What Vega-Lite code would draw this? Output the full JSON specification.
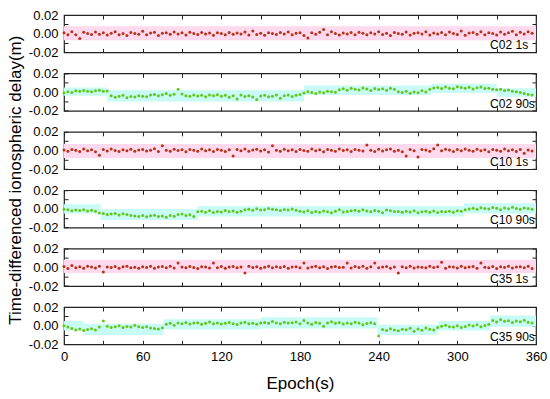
{
"$schema":"https://vega.github.io/schema/vega-lite/v6.json",
"padding":{"left":5,"top":8,"right":10,"bottom":5},
"background":"white",
"spacing":20.4,
"bounds":"flush",
"config":{"view":{"stroke":"#222","strokeWidth":1.2},"font":"Liberation Sans",
"axis":{"grid":false,"domain":false,"ticks":true,"tickSize":-4,"tickColor":"#222","tickWidth":1,"labelFont":"Liberation Sans","labelFontSize":13,"labelColor":"#000","labelPadding":10,"labelFlush":false,"titleFont":"Liberation Sans","titleFontSize":17,"titleFontWeight":"normal","titleColor":"#000"}},
"datasets":{
"c1":[{"t":0,"v":0.001},{"t":3,"v":-0.001},{"t":6,"v":0.002},{"t":9,"v":-0.0012},{"t":12,"v":-0.005},{"t":15,"v":0.0015},{"t":18,"v":0.0002},{"t":21,"v":-0.0008},{"t":24,"v":0.0018},{"t":27,"v":-0.0005},
{"t":30,"v":0.001},{"t":33,"v":-0.0015},{"t":36,"v":0.0006},{"t":39,"v":0.0022},{"t":42,"v":-0.001},{"t":45,"v":0.0003},{"t":48,"v":-0.0018},{"t":51,"v":0.0012},{"t":54,"v":0.0001},{"t":57,"v":-0.0006},
{"t":60,"v":0.0025},{"t":63,"v":-0.0012},{"t":66,"v":0.0008},{"t":69,"v":0.0015},{"t":72,"v":-0.002},{"t":75,"v":0.0004},{"t":78,"v":0.0011},{"t":81,"v":-0.0007},{"t":84,"v":0.0019},{"t":87,"v":-0.0003},
{"t":90,"v":0.0009},{"t":93,"v":-0.0014},{"t":96,"v":0.0016},{"t":99,"v":0.0002},{"t":102,"v":-0.0009},{"t":105,"v":0.0012},{"t":108,"v":-0.0004},{"t":111,"v":0.0007},{"t":114,"v":-0.0016},{"t":117,"v":0.001},
{"t":120,"v":0.0003},{"t":123,"v":-0.0011},{"t":126,"v":0.0014},{"t":129,"v":-0.0006},{"t":132,"v":0.0008},{"t":135,"v":-0.0002},{"t":138,"v":0.0017},{"t":141,"v":-0.0013},{"t":144,"v":0.003},{"t":147,"v":-0.0008},
{"t":150,"v":0.0005},{"t":153,"v":-0.0017},{"t":156,"v":0.0011},{"t":159,"v":0.0001},{"t":162,"v":-0.0009},{"t":165,"v":0.0013},{"t":168,"v":-0.0004},{"t":171,"v":0.0018},{"t":174,"v":-0.0012},{"t":177,"v":0.0006},
{"t":180,"v":0.0009},{"t":183,"v":-0.002},{"t":186,"v":-0.0045},{"t":189,"v":0.001},{"t":192,"v":-0.0005},{"t":195,"v":0.0015},{"t":198,"v":0.0045},{"t":201,"v":-0.001},{"t":204,"v":0.002},{"t":207,"v":0.0002},
{"t":210,"v":-0.0015},{"t":213,"v":0.0008},{"t":216,"v":-0.0003},{"t":219,"v":0.0012},{"t":222,"v":-0.001},{"t":225,"v":0.0016},{"t":228,"v":0.0004},{"t":231,"v":-0.0012},{"t":234,"v":0.0009},{"t":237,"v":-0.0002},
{"t":240,"v":0.0021},{"t":243,"v":-0.0008},{"t":246,"v":0.0006},{"t":249,"v":-0.0018},{"t":252,"v":0.0012},{"t":255,"v":0.0001},{"t":258,"v":-0.0007},{"t":261,"v":0.0017},{"t":264,"v":-0.0013},{"t":267,"v":0.0005},
{"t":270,"v":0.001},{"t":273,"v":-0.0004},{"t":276,"v":0.0022},{"t":279,"v":-0.0015},{"t":282,"v":0.0008},{"t":285,"v":-0.0002},{"t":288,"v":0.0014},{"t":291,"v":-0.0011},{"t":294,"v":0.0019},{"t":297,"v":0.0003},
{"t":300,"v":-0.0009},{"t":303,"v":0.0028},{"t":306,"v":-0.0016},{"t":309,"v":0.0007},{"t":312,"v":0.0013},{"t":315,"v":-0.0006},{"t":318,"v":0.002},{"t":321,"v":-0.0012},{"t":324,"v":0.0009},{"t":327,"v":0.0002},
{"t":330,"v":-0.0014},{"t":333,"v":0.0018},{"t":336,"v":-0.0005},{"t":339,"v":0.0011},{"t":342,"v":0.0026},{"t":345,"v":-0.001},{"t":348,"v":0.0015},{"t":351,"v":-0.0003},{"t":354,"v":0.0021},{"t":357,"v":0.0004}],
"c2":[{"t":0,"v":-0.001},{"t":3,"v":0.0005},{"t":6,"v":-0.0005},{"t":9,"v":0.0015},{"t":12,"v":0.0008},{"t":15,"v":0.0018},{"t":18,"v":0.001},{"t":21,"v":0.0003},{"t":24,"v":0.0015},{"t":27,"v":0.002},
{"t":30,"v":0.0008},{"t":33,"v":0.0012},{"t":36,"v":-0.004},{"t":39,"v":-0.0055},{"t":42,"v":-0.0045},{"t":45,"v":-0.0035},{"t":48,"v":-0.006},{"t":51,"v":-0.0048},{"t":54,"v":-0.0052},{"t":57,"v":-0.0038},
{"t":60,"v":-0.0045},{"t":63,"v":-0.005},{"t":66,"v":-0.003},{"t":69,"v":-0.0025},{"t":72,"v":-0.004},{"t":75,"v":-0.0028},{"t":78,"v":-0.0015},{"t":81,"v":-0.0035},{"t":84,"v":-0.0022},{"t":87,"v":0.003},
{"t":90,"v":-0.002},{"t":93,"v":-0.0038},{"t":96,"v":-0.0045},{"t":99,"v":-0.003},{"t":102,"v":-0.0042},{"t":105,"v":-0.0035},{"t":108,"v":-0.005},{"t":111,"v":-0.0032},{"t":114,"v":-0.004},{"t":117,"v":-0.0028},
{"t":120,"v":-0.0045},{"t":123,"v":-0.0035},{"t":126,"v":-0.0055},{"t":129,"v":-0.004},{"t":132,"v":-0.0075},{"t":135,"v":-0.003},{"t":138,"v":-0.0048},{"t":141,"v":-0.0038},{"t":144,"v":-0.0052},{"t":147,"v":-0.008},
{"t":150,"v":-0.0042},{"t":153,"v":-0.0035},{"t":156,"v":-0.005},{"t":159,"v":-0.0045},{"t":162,"v":-0.0032},{"t":165,"v":-0.0065},{"t":168,"v":-0.004},{"t":171,"v":-0.003},{"t":174,"v":-0.0048},{"t":177,"v":-0.0035},
{"t":180,"v":-0.0025},{"t":183,"v":-0.001},{"t":186,"v":0.0005},{"t":189,"v":-0.0005},{"t":192,"v":-0.0015},{"t":195,"v":0.0002},{"t":198,"v":-0.0008},{"t":201,"v":0.001},{"t":204,"v":0.0003},{"t":207,"v":-0.0002},
{"t":210,"v":0.0025},{"t":213,"v":0.0035},{"t":216,"v":0.002},{"t":219,"v":0.004},{"t":222,"v":0.003},{"t":225,"v":0.0022},{"t":228,"v":0.0045},{"t":231,"v":0.0032},{"t":234,"v":0.0018},{"t":237,"v":0.0038},
{"t":240,"v":0.0028},{"t":243,"v":0.0035},{"t":246,"v":0.002},{"t":249,"v":0.0042},{"t":252,"v":0.003},{"t":255,"v":0.0005},{"t":258,"v":-0.0005},{"t":261,"v":0.001},{"t":264,"v":-0.0012},{"t":267,"v":0.0002},
{"t":270,"v":-0.0008},{"t":273,"v":0.0015},{"t":276,"v":0.0},{"t":279,"v":0.003},{"t":282,"v":0.0045},{"t":285,"v":0.005},{"t":288,"v":0.0038},{"t":291,"v":0.0055},{"t":294,"v":0.0042},{"t":297,"v":0.0035},
{"t":300,"v":0.0058},{"t":303,"v":0.0048},{"t":306,"v":0.004},{"t":309,"v":0.0052},{"t":312,"v":0.0032},{"t":315,"v":0.0046},{"t":318,"v":0.0055},{"t":321,"v":0.0038},{"t":324,"v":0.0042},{"t":327,"v":0.003},
{"t":330,"v":0.0025},{"t":333,"v":0.003},{"t":336,"v":0.0018},{"t":339,"v":0.0022},{"t":342,"v":0.001},{"t":345,"v":0.0005},{"t":348,"v":-0.0005},{"t":351,"v":-0.0015},{"t":354,"v":-0.0025},{"t":357,"v":-0.003}],
"c3":[{"t":0,"v":0.0005},{"t":3,"v":-0.0008},{"t":6,"v":0.0012},{"t":9,"v":0.0002},{"t":12,"v":-0.001},{"t":15,"v":0.0015},{"t":18,"v":-0.0003},{"t":21,"v":0.0009},{"t":24,"v":-0.0013},{"t":27,"v":-0.005},
{"t":30,"v":0.001},{"t":33,"v":-0.0005},{"t":36,"v":0.0016},{"t":39,"v":0.0001},{"t":42,"v":-0.0011},{"t":45,"v":0.0008},{"t":48,"v":-0.0002},{"t":51,"v":0.0014},{"t":54,"v":-0.0009},{"t":57,"v":0.0006},
{"t":60,"v":0.0011},{"t":63,"v":-0.0006},{"t":66,"v":0.0003},{"t":69,"v":0.0018},{"t":72,"v":-0.0012},{"t":75,"v":0.005},{"t":78,"v":0.0004},{"t":81,"v":-0.0007},{"t":84,"v":0.0013},{"t":87,"v":-0.0001},
{"t":90,"v":0.0009},{"t":93,"v":-0.0014},{"t":96,"v":0.001},{"t":99,"v":0.0002},{"t":102,"v":-0.0008},{"t":105,"v":0.0015},{"t":108,"v":-0.0004},{"t":111,"v":0.0007},{"t":114,"v":-0.001},{"t":117,"v":0.0012},
{"t":120,"v":0.0003},{"t":123,"v":-0.0012},{"t":126,"v":0.0008},{"t":129,"v":-0.006},{"t":132,"v":0.0011},{"t":135,"v":-0.0003},{"t":138,"v":0.0016},{"t":141,"v":-0.0009},{"t":144,"v":0.0005},{"t":147,"v":0.0013},
{"t":150,"v":-0.0006},{"t":153,"v":0.0009},{"t":156,"v":-0.0015},{"t":159,"v":0.005},{"t":162,"v":0.0002},{"t":165,"v":-0.0008},{"t":168,"v":0.0014},{"t":171,"v":-0.0002},{"t":174,"v":0.0007},{"t":177,"v":-0.0011},
{"t":180,"v":0.0012},{"t":183,"v":0.0001},{"t":186,"v":-0.0009},{"t":189,"v":0.0017},{"t":192,"v":-0.0004},{"t":195,"v":0.0008},{"t":198,"v":-0.0013},{"t":201,"v":0.001},{"t":204,"v":0.0004},{"t":207,"v":-0.0007},
{"t":210,"v":0.0015},{"t":213,"v":-0.0001},{"t":216,"v":0.0009},{"t":219,"v":-0.0012},{"t":222,"v":0.0011},{"t":225,"v":0.0002},{"t":228,"v":-0.0006},{"t":231,"v":0.006},{"t":234,"v":0.0003},{"t":237,"v":-0.001},
{"t":240,"v":0.0013},{"t":243,"v":-0.0005},{"t":246,"v":0.0007},{"t":249,"v":0.0016},{"t":252,"v":-0.0008},{"t":255,"v":0.0004},{"t":258,"v":-0.0013},{"t":261,"v":-0.006},{"t":264,"v":0.001},{"t":267,"v":-0.0002},
{"t":270,"v":-0.007},{"t":273,"v":0.0012},{"t":276,"v":0.0005},{"t":279,"v":-0.0009},{"t":282,"v":0.0018},{"t":285,"v":0.006},{"t":288,"v":-0.0003},{"t":291,"v":0.0014},{"t":294,"v":0.0006},{"t":297,"v":-0.0011},
{"t":300,"v":0.001},{"t":303,"v":-0.0004},{"t":306,"v":0.0015},{"t":309,"v":0.0002},{"t":312,"v":-0.0008},{"t":315,"v":0.0013},{"t":318,"v":-0.0002},{"t":321,"v":0.0008},{"t":324,"v":-0.0014},{"t":327,"v":0.0011},
{"t":330,"v":0.0003},{"t":333,"v":-0.0007},{"t":336,"v":0.0016},{"t":339,"v":-0.0003},{"t":342,"v":0.0009},{"t":345,"v":-0.0012},{"t":348,"v":0.001},{"t":351,"v":-0.003},{"t":354,"v":0.0006},{"t":357,"v":-0.0005}],
"c4":[{"t":0,"v":-0.0005},{"t":3,"v":-0.001},{"t":6,"v":-0.002},{"t":9,"v":-0.0012},{"t":12,"v":-0.0018},{"t":15,"v":-0.0008},{"t":18,"v":-0.0022},{"t":21,"v":-0.0015},{"t":24,"v":-0.0025},{"t":27,"v":-0.0045},
{"t":30,"v":-0.005},{"t":33,"v":-0.006},{"t":36,"v":-0.0055},{"t":39,"v":-0.0048},{"t":42,"v":-0.0065},{"t":45,"v":-0.0052},{"t":48,"v":-0.006},{"t":51,"v":-0.007},{"t":54,"v":-0.0075},{"t":57,"v":-0.008},
{"t":60,"v":-0.007},{"t":63,"v":-0.0085},{"t":66,"v":-0.0072},{"t":69,"v":-0.0068},{"t":72,"v":-0.0082},{"t":75,"v":-0.0075},{"t":78,"v":-0.009},{"t":81,"v":-0.007},{"t":84,"v":-0.0078},{"t":87,"v":-0.006},
{"t":90,"v":-0.0055},{"t":93,"v":-0.007},{"t":96,"v":-0.0062},{"t":99,"v":-0.008},{"t":102,"v":-0.003},{"t":105,"v":-0.0025},{"t":108,"v":-0.0035},{"t":111,"v":-0.002},{"t":114,"v":-0.0038},{"t":117,"v":-0.0028},
{"t":120,"v":-0.0032},{"t":123,"v":-0.0018},{"t":126,"v":-0.003},{"t":129,"v":-0.0022},{"t":132,"v":-0.0035},{"t":135,"v":-0.0025},{"t":138,"v":-0.001},{"t":141,"v":-0.0005},{"t":144,"v":-0.0015},{"t":147,"v":0.0002},
{"t":150,"v":-0.0012},{"t":153,"v":-0.0008},{"t":156,"v":0.0005},{"t":159,"v":-0.0003},{"t":162,"v":-0.001},{"t":165,"v":-0.0018},{"t":168,"v":-0.0006},{"t":171,"v":-0.0012},{"t":174,"v":0.0},{"t":177,"v":-0.0015},
{"t":180,"v":-0.0025},{"t":183,"v":-0.0032},{"t":186,"v":-0.002},{"t":189,"v":-0.0038},{"t":192,"v":-0.0028},{"t":195,"v":-0.0035},{"t":198,"v":-0.0022},{"t":201,"v":-0.003},{"t":204,"v":-0.004},{"t":207,"v":-0.0025},
{"t":210,"v":-0.001},{"t":213,"v":-0.0032},{"t":216,"v":-0.0028},{"t":219,"v":-0.002},{"t":222,"v":-0.0015},{"t":225,"v":-0.0025},{"t":228,"v":-0.001},{"t":231,"v":-0.0022},{"t":234,"v":-0.003},{"t":237,"v":-0.0018},
{"t":240,"v":-0.0025},{"t":243,"v":-0.004},{"t":246,"v":-0.0012},{"t":249,"v":-0.002},{"t":252,"v":-0.0028},{"t":255,"v":-0.0028},{"t":258,"v":-0.0035},{"t":261,"v":-0.0025},{"t":264,"v":-0.0032},{"t":267,"v":-0.002},
{"t":270,"v":-0.004},{"t":273,"v":-0.003},{"t":276,"v":-0.0026},{"t":279,"v":-0.0035},{"t":282,"v":-0.0022},{"t":285,"v":-0.0038},{"t":288,"v":-0.0028},{"t":291,"v":-0.003},{"t":294,"v":-0.0024},{"t":297,"v":-0.0036},
{"t":300,"v":-0.002},{"t":303,"v":-0.0025},{"t":306,"v":-0.001},{"t":309,"v":0.0},{"t":312,"v":0.0008},{"t":315,"v":-0.0005},{"t":318,"v":0.0012},{"t":321,"v":0.0003},{"t":324,"v":-0.0002},{"t":327,"v":0.0015},
{"t":330,"v":0.0006},{"t":333,"v":-0.0008},{"t":336,"v":0.001},{"t":339,"v":0.0002},{"t":342,"v":0.0018},{"t":345,"v":0.0004},{"t":348,"v":-0.0005},{"t":351,"v":0.001},{"t":354,"v":0.0005},{"t":357,"v":-0.0003}],
"c5":[{"t":0,"v":0.0008},{"t":3,"v":-0.0012},{"t":6,"v":0.002},{"t":9,"v":-0.0005},{"t":12,"v":0.0006},{"t":15,"v":-0.0009},{"t":18,"v":0.0011},{"t":21,"v":0.0002},{"t":24,"v":-0.0007},{"t":27,"v":0.001},
{"t":30,"v":-0.005},{"t":33,"v":0.0004},{"t":36,"v":-0.0003},{"t":39,"v":0.0009},{"t":42,"v":-0.0011},{"t":45,"v":0.0005},{"t":48,"v":0.0012},{"t":51,"v":-0.0006},{"t":54,"v":0.0001},{"t":57,"v":-0.0009},
{"t":60,"v":0.0007},{"t":63,"v":-0.0002},{"t":66,"v":0.001},{"t":69,"v":-0.001},{"t":72,"v":0.0003},{"t":75,"v":0.0008},{"t":78,"v":-0.0005},{"t":81,"v":0.0011},{"t":84,"v":-0.0008},{"t":87,"v":0.0045},
{"t":90,"v":0.0002},{"t":93,"v":-0.0006},{"t":96,"v":0.0009},{"t":99,"v":-0.0001},{"t":102,"v":-0.0012},{"t":105,"v":0.0006},{"t":108,"v":0.0003},{"t":111,"v":-0.0007},{"t":114,"v":0.0045},{"t":117,"v":-0.0004},
{"t":120,"v":0.0008},{"t":123,"v":-0.001},{"t":126,"v":0.0002},{"t":129,"v":0.0009},{"t":132,"v":-0.0005},{"t":135,"v":0.0004},{"t":138,"v":-0.006},{"t":141,"v":0.001},{"t":144,"v":-0.0003},{"t":147,"v":0.0006},
{"t":150,"v":-0.0009},{"t":153,"v":0.0001},{"t":156,"v":0.0012},{"t":159,"v":-0.0006},{"t":162,"v":0.0005},{"t":165,"v":-0.0002},{"t":168,"v":0.0008},{"t":171,"v":-0.0011},{"t":174,"v":0.0003},{"t":177,"v":0.0007},
{"t":180,"v":-0.0004},{"t":183,"v":0.0045},{"t":186,"v":-0.0008},{"t":189,"v":0.0002},{"t":192,"v":0.001},{"t":195,"v":-0.0005},{"t":198,"v":0.0006},{"t":201,"v":-0.0012},{"t":204,"v":0.0004},{"t":207,"v":0.0009},
{"t":210,"v":-0.0003},{"t":213,"v":0.0001},{"t":216,"v":0.0045},{"t":219,"v":-0.0007},{"t":222,"v":0.0008},{"t":225,"v":-0.0002},{"t":228,"v":0.0011},{"t":231,"v":-0.0009},{"t":234,"v":0.0005},{"t":237,"v":0.0045},
{"t":240,"v":-0.0006},{"t":243,"v":0.0003},{"t":246,"v":0.0009},{"t":249,"v":-0.0011},{"t":252,"v":0.0002},{"t":255,"v":-0.006},{"t":258,"v":0.0007},{"t":261,"v":-0.0004},{"t":264,"v":0.001},{"t":267,"v":-0.0008},
{"t":270,"v":0.0004},{"t":273,"v":0.0001},{"t":276,"v":-0.0006},{"t":279,"v":0.0012},{"t":282,"v":-0.0003},{"t":285,"v":0.0006},{"t":288,"v":0.0055},{"t":291,"v":-0.001},{"t":294,"v":0.0005},{"t":297,"v":0.0002},
{"t":300,"v":-0.0007},{"t":303,"v":0.001},{"t":306,"v":-0.0004},{"t":309,"v":0.0003},{"t":312,"v":0.0008},{"t":315,"v":-0.0009},{"t":318,"v":0.0045},{"t":321,"v":0.0001},{"t":324,"v":-0.0005},{"t":327,"v":0.0009},
{"t":330,"v":-0.0012},{"t":333,"v":0.0006},{"t":336,"v":-0.0002},{"t":339,"v":0.0011},{"t":342,"v":-0.0008},{"t":345,"v":0.0003},{"t":348,"v":0.0007},{"t":351,"v":-0.0006},{"t":354,"v":0.001},{"t":357,"v":-0.0014}],
"c6":[{"t":0,"v":0.0},{"t":3,"v":-0.0015},{"t":6,"v":-0.003},{"t":9,"v":-0.0045},{"t":12,"v":-0.0035},{"t":15,"v":-0.005},{"t":18,"v":-0.004},{"t":21,"v":-0.0032},{"t":24,"v":-0.0045},{"t":27,"v":-0.0015},
{"t":30,"v":0.005},{"t":33,"v":-0.0005},{"t":36,"v":-0.0018},{"t":39,"v":-0.001},{"t":42,"v":0.0},{"t":45,"v":-0.002},{"t":48,"v":-0.0008},{"t":51,"v":-0.0015},{"t":54,"v":0.0005},{"t":57,"v":-0.0012},
{"t":60,"v":-0.002},{"t":63,"v":-0.001},{"t":66,"v":-0.0025},{"t":69,"v":-0.003},{"t":72,"v":-0.0035},{"t":75,"v":-0.0022},{"t":78,"v":0.0015},{"t":81,"v":0.0025},{"t":84,"v":0.0005},{"t":87,"v":0.003},
{"t":90,"v":0.002},{"t":93,"v":0.0035},{"t":96,"v":0.0018},{"t":99,"v":0.0028},{"t":102,"v":0.0032},{"t":105,"v":0.0015},{"t":108,"v":0.0025},{"t":111,"v":0.004},{"t":114,"v":0.0022},{"t":117,"v":0.003},
{"t":120,"v":0.0018},{"t":123,"v":0.0026},{"t":126,"v":0.0035},{"t":129,"v":0.002},{"t":132,"v":0.0012},{"t":135,"v":0.0028},{"t":138,"v":0.0038},{"t":141,"v":0.0022},{"t":144,"v":0.0025},{"t":147,"v":0.0016},
{"t":150,"v":0.003},{"t":153,"v":0.0035},{"t":156,"v":0.0025},{"t":159,"v":0.0045},{"t":162,"v":0.003},{"t":165,"v":0.002},{"t":168,"v":0.0038},{"t":171,"v":0.0028},{"t":174,"v":0.0032},{"t":177,"v":0.004},
{"t":180,"v":0.0022},{"t":183,"v":0.0055},{"t":186,"v":0.003},{"t":189,"v":0.0015},{"t":192,"v":0.0035},{"t":195,"v":0.0025},{"t":198,"v":-0.0005},{"t":201,"v":0.003},{"t":204,"v":0.0042},{"t":207,"v":0.0026},
{"t":210,"v":0.0034},{"t":213,"v":0.0018},{"t":216,"v":0.003},{"t":219,"v":0.0022},{"t":222,"v":0.0036},{"t":225,"v":0.0028},{"t":228,"v":0.001},{"t":231,"v":0.0024},{"t":234,"v":0.0032},{"t":237,"v":0.002},
{"t":240,"v":-0.011},{"t":243,"v":-0.004},{"t":246,"v":-0.005},{"t":249,"v":-0.0032},{"t":252,"v":-0.0045},{"t":255,"v":-0.0055},{"t":258,"v":-0.0038},{"t":261,"v":-0.0042},{"t":264,"v":-0.0028},{"t":267,"v":-0.006},
{"t":270,"v":-0.0035},{"t":273,"v":-0.0048},{"t":276,"v":-0.0025},{"t":279,"v":-0.0038},{"t":282,"v":-0.0045},{"t":285,"v":-0.002},{"t":288,"v":-0.0005},{"t":291,"v":0.0005},{"t":294,"v":-0.001},{"t":297,"v":-0.0015},
{"t":300,"v":0.0},{"t":303,"v":-0.002},{"t":306,"v":-0.0008},{"t":309,"v":0.0008},{"t":312,"v":-0.0003},{"t":315,"v":0.001},{"t":318,"v":-0.0012},{"t":321,"v":0.0003},{"t":324,"v":0.0015},{"t":327,"v":0.0055},
{"t":330,"v":0.004},{"t":333,"v":0.0065},{"t":336,"v":0.0048},{"t":339,"v":0.0052},{"t":342,"v":0.0035},{"t":345,"v":0.005},{"t":348,"v":0.0042},{"t":351,"v":0.0058},{"t":354,"v":0.0038},{"t":357,"v":0.003}]
},
"vconcat":[
{"width":472,"height":37.4,"resolve":{"axis":{"x":"independent","y":"independent"}},"layer":[
{"data":{"values":[{"t0":0,"t1":360,"lo":-0.007,"hi":0.008}]},"mark":{"type":"rect","color":"#ffd9ee"},"encoding":{"x":{"field":"t0","type":"quantitative","scale":{"domain":[0,360],"nice":false},"axis":null},"x2":{"field":"t1"},"y":{"field":"lo","type":"quantitative","scale":{"domain":[-0.02,0.02]},"axis":null},"y2":{"field":"hi"}}},
{"data":{"name":"c1"},"mark":{"type":"circle","size":9,"color":"#b8321a","opacity":1},"encoding":{"x":{"field":"t","type":"quantitative","scale":{"domain":[0,360],"nice":false},"axis":{"orient":"bottom","values":[0,30,60,90,120,150,180,210,240,270,300,330,360],"labels":false,"title":null}},"y":{"field":"v","type":"quantitative","scale":{"domain":[-0.02,0.02]},"axis":{"orient":"left","values":[-0.02,-0.01,0,0.01,0.02],"labelExpr":"datum.value == 0 ? '0.00' : datum.value == 0.02 ? '0.02' : datum.value == -0.02 ? '-0.02' : ''","title":null}}}},
{"data":{"values":[{"label":"C02 1s"}]},"mark":{"type":"text","align":"left","baseline":"alphabetic","fontSize":12,"color":"#000"},"encoding":{"text":{"field":"label"},"x":{"datum":325,"type":"quantitative","scale":{"domain":[0,360],"nice":false},"axis":{"orient":"top","values":[0,30,60,90,120,150,180,210,240,270,300,330,360],"labels":false,"title":null}},"y":{"datum":-0.0166,"type":"quantitative","scale":{"domain":[-0.02,0.02]},"axis":{"orient":"right","values":[-0.02,-0.01,0,0.01,0.02],"labels":false,"title":null}}}}
]},
{"width":472,"height":37.4,"resolve":{"axis":{"x":"independent","y":"independent"}},"layer":[
{"data":{"values":[{"t0":0,"t1":33,"lo":-0.004,"hi":0.005},{"t0":33,"t1":183,"lo":-0.01,"hi":0.002},{"t0":183,"t1":280,"lo":-0.003,"hi":0.007},{"t0":280,"t1":330,"lo":-0.001,"hi":0.009},{"t0":330,"t1":360,"lo":-0.005,"hi":0.004}]},"mark":{"type":"rect","color":"#c8fbf6"},"encoding":{"x":{"field":"t0","type":"quantitative","scale":{"domain":[0,360],"nice":false},"axis":null},"x2":{"field":"t1"},"y":{"field":"lo","type":"quantitative","scale":{"domain":[-0.02,0.02]},"axis":null},"y2":{"field":"hi"}}},
{"data":{"name":"c2"},"mark":{"type":"circle","size":9,"color":"#62c81e","opacity":1},"encoding":{"x":{"field":"t","type":"quantitative","scale":{"domain":[0,360],"nice":false},"axis":{"orient":"bottom","values":[0,30,60,90,120,150,180,210,240,270,300,330,360],"labels":false,"title":null}},"y":{"field":"v","type":"quantitative","scale":{"domain":[-0.02,0.02]},"axis":{"orient":"left","values":[-0.02,-0.01,0,0.01,0.02],"labelExpr":"datum.value == 0 ? '0.00' : datum.value == 0.02 ? '0.02' : datum.value == -0.02 ? '-0.02' : ''","title":null}}}},
{"data":{"values":[{"label":"C02 90s"}]},"mark":{"type":"text","align":"left","baseline":"alphabetic","fontSize":12,"color":"#000"},"encoding":{"text":{"field":"label"},"x":{"datum":325,"type":"quantitative","scale":{"domain":[0,360],"nice":false},"axis":{"orient":"top","values":[0,30,60,90,120,150,180,210,240,270,300,330,360],"labels":false,"title":null}},"y":{"datum":-0.0166,"type":"quantitative","scale":{"domain":[-0.02,0.02]},"axis":{"orient":"right","values":[-0.02,-0.01,0,0.01,0.02],"labels":false,"title":null}}}}
]},
{"width":472,"height":37.4,"resolve":{"axis":{"x":"independent","y":"independent"}},"layer":[
{"data":{"values":[{"t0":0,"t1":360,"lo":-0.008,"hi":0.007}]},"mark":{"type":"rect","color":"#ffd9ee"},"encoding":{"x":{"field":"t0","type":"quantitative","scale":{"domain":[0,360],"nice":false},"axis":null},"x2":{"field":"t1"},"y":{"field":"lo","type":"quantitative","scale":{"domain":[-0.02,0.02]},"axis":null},"y2":{"field":"hi"}}},
{"data":{"name":"c3"},"mark":{"type":"circle","size":9,"color":"#b8321a","opacity":1},"encoding":{"x":{"field":"t","type":"quantitative","scale":{"domain":[0,360],"nice":false},"axis":{"orient":"bottom","values":[0,30,60,90,120,150,180,210,240,270,300,330,360],"labels":false,"title":null}},"y":{"field":"v","type":"quantitative","scale":{"domain":[-0.02,0.02]},"axis":{"orient":"left","values":[-0.02,-0.01,0,0.01,0.02],"labelExpr":"datum.value == 0 ? '0.00' : datum.value == 0.02 ? '0.02' : datum.value == -0.02 ? '-0.02' : ''","title":null}}}},
{"data":{"values":[{"label":"C10 1s"}]},"mark":{"type":"text","align":"left","baseline":"alphabetic","fontSize":12,"color":"#000"},"encoding":{"text":{"field":"label"},"x":{"datum":325,"type":"quantitative","scale":{"domain":[0,360],"nice":false},"axis":{"orient":"top","values":[0,30,60,90,120,150,180,210,240,270,300,330,360],"labels":false,"title":null}},"y":{"datum":-0.0166,"type":"quantitative","scale":{"domain":[-0.02,0.02]},"axis":{"orient":"right","values":[-0.02,-0.01,0,0.01,0.02],"labels":false,"title":null}}}}
]},
{"width":472,"height":37.4,"resolve":{"axis":{"x":"independent","y":"independent"}},"layer":[
{"data":{"values":[{"t0":0,"t1":28,"lo":-0.005,"hi":0.005},{"t0":28,"t1":102,"lo":-0.012,"hi":0.0},{"t0":102,"t1":305,"lo":-0.008,"hi":0.003},{"t0":305,"t1":360,"lo":-0.005,"hi":0.006}]},"mark":{"type":"rect","color":"#c8fbf6"},"encoding":{"x":{"field":"t0","type":"quantitative","scale":{"domain":[0,360],"nice":false},"axis":null},"x2":{"field":"t1"},"y":{"field":"lo","type":"quantitative","scale":{"domain":[-0.02,0.02]},"axis":null},"y2":{"field":"hi"}}},
{"data":{"name":"c4"},"mark":{"type":"circle","size":9,"color":"#62c81e","opacity":1},"encoding":{"x":{"field":"t","type":"quantitative","scale":{"domain":[0,360],"nice":false},"axis":{"orient":"bottom","values":[0,30,60,90,120,150,180,210,240,270,300,330,360],"labels":false,"title":null}},"y":{"field":"v","type":"quantitative","scale":{"domain":[-0.02,0.02]},"axis":{"orient":"left","values":[-0.02,-0.01,0,0.01,0.02],"labelExpr":"datum.value == 0 ? '0.00' : datum.value == 0.02 ? '0.02' : datum.value == -0.02 ? '-0.02' : ''","title":"Time-differenced ionospheric delay(m)","titleY":-10.5,"titlePadding":4}}}},
{"data":{"values":[{"label":"C10 90s"}]},"mark":{"type":"text","align":"left","baseline":"alphabetic","fontSize":12,"color":"#000"},"encoding":{"text":{"field":"label"},"x":{"datum":325,"type":"quantitative","scale":{"domain":[0,360],"nice":false},"axis":{"orient":"top","values":[0,30,60,90,120,150,180,210,240,270,300,330,360],"labels":false,"title":null}},"y":{"datum":-0.0166,"type":"quantitative","scale":{"domain":[-0.02,0.02]},"axis":{"orient":"right","values":[-0.02,-0.01,0,0.01,0.02],"labels":false,"title":null}}}}
]},
{"width":472,"height":37.4,"resolve":{"axis":{"x":"independent","y":"independent"}},"layer":[
{"data":{"values":[{"t0":0,"t1":360,"lo":-0.006,"hi":0.008}]},"mark":{"type":"rect","color":"#ffd9ee"},"encoding":{"x":{"field":"t0","type":"quantitative","scale":{"domain":[0,360],"nice":false},"axis":null},"x2":{"field":"t1"},"y":{"field":"lo","type":"quantitative","scale":{"domain":[-0.02,0.02]},"axis":null},"y2":{"field":"hi"}}},
{"data":{"name":"c5"},"mark":{"type":"circle","size":9,"color":"#b8321a","opacity":1},"encoding":{"x":{"field":"t","type":"quantitative","scale":{"domain":[0,360],"nice":false},"axis":{"orient":"bottom","values":[0,30,60,90,120,150,180,210,240,270,300,330,360],"labels":false,"title":null}},"y":{"field":"v","type":"quantitative","scale":{"domain":[-0.02,0.02]},"axis":{"orient":"left","values":[-0.02,-0.01,0,0.01,0.02],"labelExpr":"datum.value == 0 ? '0.00' : datum.value == 0.02 ? '0.02' : datum.value == -0.02 ? '-0.02' : ''","title":null}}}},
{"data":{"values":[{"label":"C35 1s"}]},"mark":{"type":"text","align":"left","baseline":"alphabetic","fontSize":12,"color":"#000"},"encoding":{"text":{"field":"label"},"x":{"datum":325,"type":"quantitative","scale":{"domain":[0,360],"nice":false},"axis":{"orient":"top","values":[0,30,60,90,120,150,180,210,240,270,300,330,360],"labels":false,"title":null}},"y":{"datum":-0.0166,"type":"quantitative","scale":{"domain":[-0.02,0.02]},"axis":{"orient":"right","values":[-0.02,-0.01,0,0.01,0.02],"labels":false,"title":null}}}}
]},
{"width":472,"height":37.4,"resolve":{"axis":{"x":"independent","y":"independent"}},"layer":[
{"data":{"values":[{"t0":0,"t1":15,"lo":-0.005,"hi":0.005},{"t0":15,"t1":76,"lo":-0.01,"hi":0.002},{"t0":76,"t1":150,"lo":-0.004,"hi":0.007},{"t0":150,"t1":239,"lo":-0.003,"hi":0.009},{"t0":239,"t1":285,"lo":-0.01,"hi":0.001},{"t0":285,"t1":325,"lo":-0.005,"hi":0.005},{"t0":325,"t1":360,"lo":-0.001,"hi":0.011}]},"mark":{"type":"rect","color":"#c8fbf6"},"encoding":{"x":{"field":"t0","type":"quantitative","scale":{"domain":[0,360],"nice":false},"axis":null},"x2":{"field":"t1"},"y":{"field":"lo","type":"quantitative","scale":{"domain":[-0.02,0.02]},"axis":null},"y2":{"field":"hi"}}},
{"data":{"name":"c6"},"mark":{"type":"circle","size":9,"color":"#62c81e","opacity":1},"encoding":{"x":{"field":"t","type":"quantitative","scale":{"domain":[0,360],"nice":false},"axis":{"orient":"bottom","values":[0,30,60,90,120,150,180,210,240,270,300,330,360],"labelExpr":"datum.value % 60 == 0 ? datum.label : ''","title":"Epoch(s)","titlePadding":12}},"y":{"field":"v","type":"quantitative","scale":{"domain":[-0.02,0.02]},"axis":{"orient":"left","values":[-0.02,-0.01,0,0.01,0.02],"labelExpr":"datum.value == 0 ? '0.00' : datum.value == 0.02 ? '0.02' : datum.value == -0.02 ? '-0.02' : ''","title":null}}}},
{"data":{"values":[{"label":"C35 90s"}]},"mark":{"type":"text","align":"left","baseline":"alphabetic","fontSize":12,"color":"#000"},"encoding":{"text":{"field":"label"},"x":{"datum":325,"type":"quantitative","scale":{"domain":[0,360],"nice":false},"axis":{"orient":"top","values":[0,30,60,90,120,150,180,210,240,270,300,330,360],"labels":false,"title":null}},"y":{"datum":-0.0166,"type":"quantitative","scale":{"domain":[-0.02,0.02]},"axis":{"orient":"right","values":[-0.02,-0.01,0,0.01,0.02],"labels":false,"title":null}}}}
]}
]
}
